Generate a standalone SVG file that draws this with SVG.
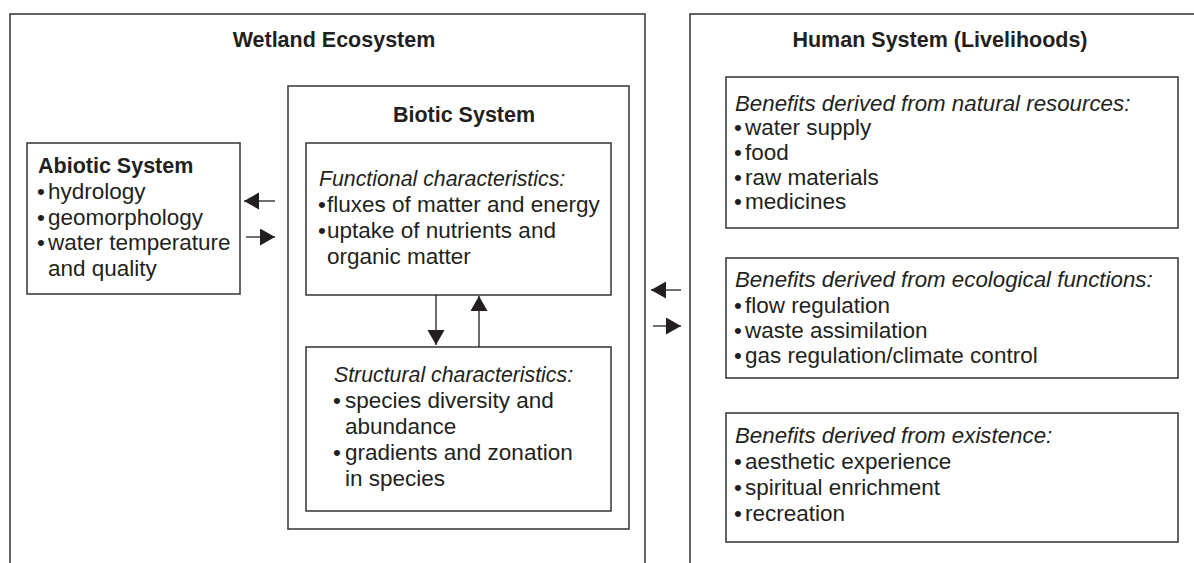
<svg xmlns="http://www.w3.org/2000/svg" width="1194" height="563" viewBox="0 0 1194 563">
<defs>
<style>
.box{fill:none;stroke:#333;stroke-width:1.5}
.t{font-family:"Liberation Sans",Arial,sans-serif;font-size:22.5px;fill:#231f20}
.b{font-weight:bold;font-size:21.5px}
.i{font-style:italic;font-size:21.3px}
.h{font-size:22.3px}
.c{text-anchor:middle}
.ar{stroke:#231f20;stroke-width:1.3;fill:none;marker-end:url(#ah)}
</style>
<marker id="ah" markerUnits="userSpaceOnUse" markerWidth="16" markerHeight="18" refX="15" refY="8.5" orient="auto">
<path d="M0,0 L15,8.5 L0,17 z" fill="#231f20"/>
</marker>
</defs>
<rect width="1194" height="563" fill="#fff"/>

<g id="wetland">
<rect class="box" x="10" y="14" width="635" height="580"/>
<text class="t b c" x="334" y="47">Wetland Ecosystem</text>
</g>

<g id="abiotic">
<rect class="box" x="27" y="143" width="213" height="151"/>
<text class="t b" x="38" y="173">Abiotic System</text>
<text class="t" x="37" y="199">•<tspan x="48">hydrology</tspan></text>
<text class="t" x="37" y="225">•<tspan x="48">geomorphology</tspan></text>
<text class="t" x="37" y="250">•<tspan x="48">water temperature</tspan></text>
<text class="t" x="48" y="276">and quality</text>
</g>

<g id="biotic">
<rect class="box" x="288" y="86" width="341" height="443"/>
<text class="t b c" x="464" y="122">Biotic System</text>
</g>

<g id="functional">
<rect class="box" x="306" y="143" width="305" height="152"/>
<text class="t i" x="319" y="186">Functional characteristics:</text>
<text class="t" x="318" y="212">•<tspan x="327">fluxes of matter and energy</tspan></text>
<text class="t" x="318" y="238">•<tspan x="327">uptake of nutrients and</tspan></text>
<text class="t" x="327" y="264">organic matter</text>
</g>

<g id="structural">
<rect class="box" x="306" y="347" width="305" height="164"/>
<text class="t i" x="334" y="382">Structural characteristics:</text>
<text class="t" x="333" y="408">•<tspan x="345">species diversity and</tspan></text>
<text class="t" x="345" y="434">abundance</text>
<text class="t" x="333" y="460">•<tspan x="345">gradients and zonation</tspan></text>
<text class="t" x="345" y="486">in species</text>
</g>

<g id="human">
<rect class="box" x="690" y="14" width="560" height="580"/>
<text class="t b c" x="940" y="47">Human System (Livelihoods)</text>
</g>

<g id="natural-resources">
<rect class="box" x="726" y="77" width="452" height="151"/>
<text class="t i h" x="735" y="111">Benefits derived from natural resources:</text>
<text class="t" x="734" y="135">•<tspan x="745">water supply</tspan></text>
<text class="t" x="734" y="160">•<tspan x="745">food</tspan></text>
<text class="t" x="734" y="185">•<tspan x="745">raw materials</tspan></text>
<text class="t" x="734" y="209">•<tspan x="745">medicines</tspan></text>
</g>

<g id="ecological-functions">
<rect class="box" x="726" y="258" width="452" height="120"/>
<text class="t i h" x="735" y="287">Benefits derived from ecological functions:</text>
<text class="t" x="734" y="313">•<tspan x="745">flow regulation</tspan></text>
<text class="t" x="734" y="338">•<tspan x="745">waste assimilation</tspan></text>
<text class="t" x="734" y="363">•<tspan x="745">gas regulation/climate control</tspan></text>
</g>

<g id="existence">
<rect class="box" x="726" y="413" width="452" height="129"/>
<text class="t i h" x="735" y="443">Benefits derived from existence:</text>
<text class="t" x="734" y="469">•<tspan x="745">aesthetic experience</tspan></text>
<text class="t" x="734" y="495">•<tspan x="745">spiritual enrichment</tspan></text>
<text class="t" x="734" y="521">•<tspan x="745">recreation</tspan></text>
</g>

<g id="connectors">
<line class="ar" x1="275" y1="201" x2="244" y2="201"/>
<line class="ar" x1="246" y1="237" x2="275" y2="237"/>
<line class="ar" x1="436" y1="295" x2="436" y2="345"/>
<line class="ar" x1="479" y1="347" x2="479" y2="296"/>
<line class="ar" x1="681" y1="290" x2="651" y2="290"/>
<line class="ar" x1="653" y1="326" x2="681" y2="326"/>
</g>
</svg>
